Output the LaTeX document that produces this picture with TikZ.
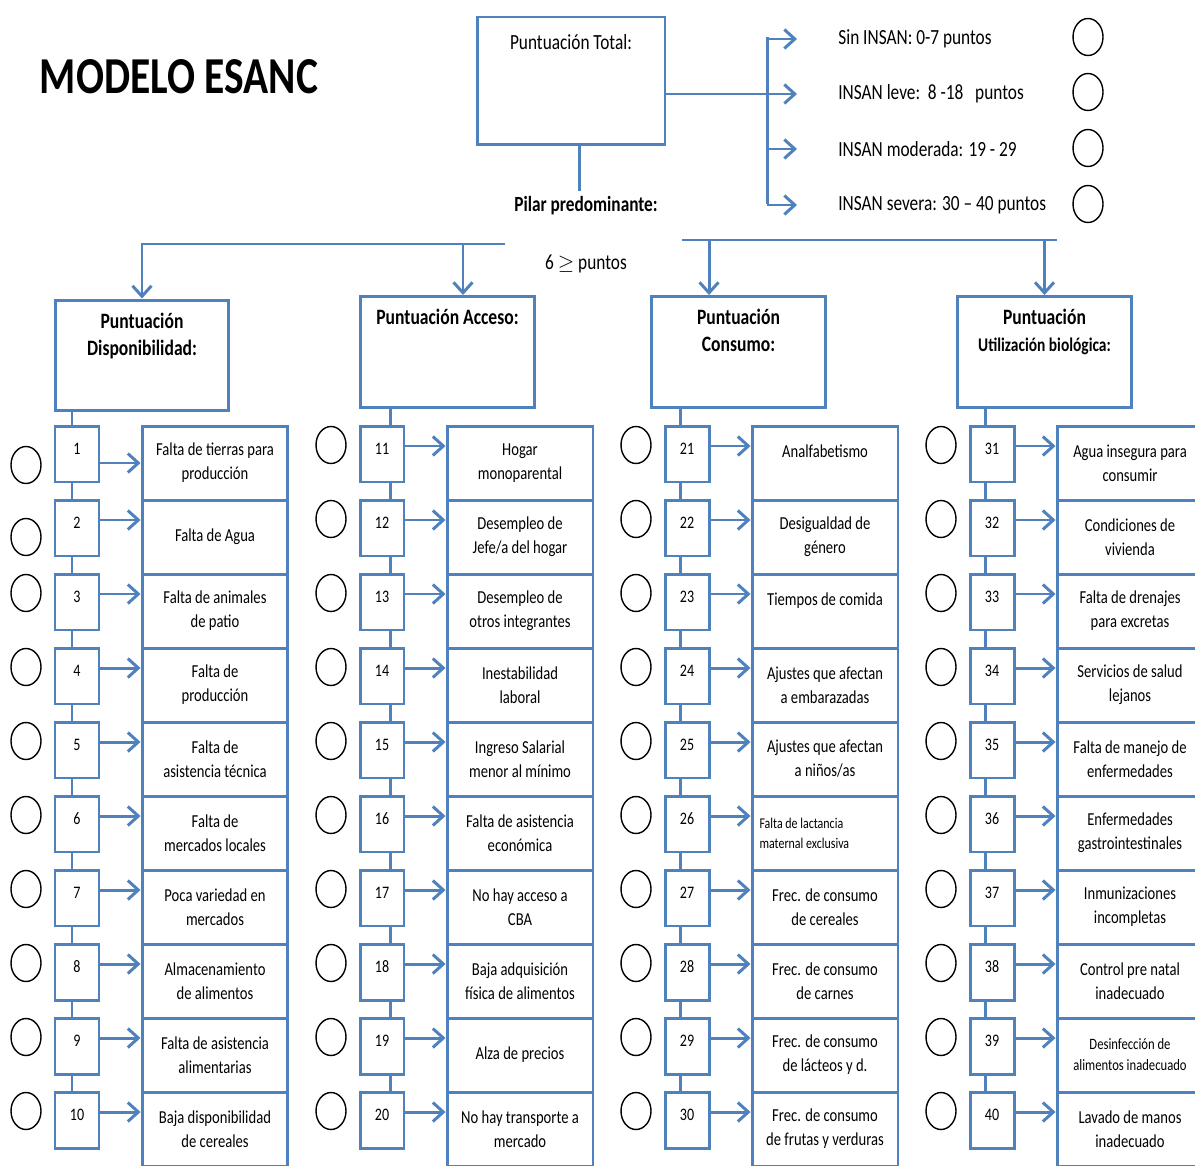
\documentclass[tikz,border=0pt]{standalone}
\usepackage{fontspec}
\setmainfont{Carlito}[FakeStretch=0.8]
\usepackage{tikz}
\usetikzlibrary{positioning,calc,arrows.meta,shapes.geometric}
\definecolor{ESANCazul}{RGB}{79,129,189}
\newcommand{\cabecera}[1]{\parbox[c][1.7cm][t]{3.3cm}{\centering #1}}
\tikzset{
    caja/.style={rectangle, draw=ESANCazul, line width=1.7pt, fill=white},
    linea/.style={draw=ESANCazul, line width=1.7pt},
    flecha/.style={linea, -{Straight Barb[length=2.1mm, width=3.8mm]}},
    marca/.style={ellipse, draw=black, line width=0.8pt, minimum width=0.6cm, minimum height=0.74cm, inner sep=0pt}
}

\begin{document}
\begin{tikzpicture}[
        x=0.02cm, y=-0.02cm, % un pixel de la imagen
        % --- CAJAS ---
        numbox/.style={caja, minimum width=0.88cm, minimum height=1.12cm, inner sep=0pt, text depth=0.22cm, font=\fontsize{10}{12}\selectfont},
        itembox/.style={caja, minimum width=2.92cm, minimum height=1.48cm, inner sep=0pt, text width=2.84cm, align=flush center, font=\fontsize{10.4}{13.6}\selectfont},
        cabeza/.style={caja, minimum width=3.48cm, inner xsep=0.09cm, inner ysep=0.26cm, font=\fontsize{12.5}{15.3}\selectfont\bfseries},
        total/.style={caja, minimum width=3.76cm, inner xsep=0pt, inner ysep=0.3cm, text height=0.34cm, text depth=1.62cm, font=\fontsize{12.3}{14.4}\selectfont},
        % --- TEXTOS SUELTOS ---
        etiqueta/.style={anchor=west, inner sep=0pt, font=\fontsize{12.3}{14.4}\selectfont}
    ]
    \path[use as bounding box] (0,0) rectangle (1195,1165);
    \clip (0,0) rectangle (1195,1165);

    % --- TITULO ---
    \node[font=\fontsize{29.5}{32}\selectfont\bfseries] (titulo) at (179,77) {MODELO ESANC};

    % --- PUNTUACION TOTAL Y ESCALA ---
    \node[total] (tot) at (571,81) {Puntuación Total:};
    \node[etiqueta] (l1) at (838,39) {Sin INSAN: 0-7 puntos};
    \node[etiqueta] (l2) at (838,94) {INSAN leve:~~8 -18~~~puntos};
    \node[etiqueta] (l3) at (838,149) {INSAN moderada: 19 - 29};
    \node[etiqueta] (l4) at (838,205) {INSAN severa: 30 -- 40 puntos};
    \node[marca] (r1) at (1088,37) {};
    \node[marca] (r2) at (1088,92) {};
    \node[marca] (r3) at (1088,148) {};
    \node[marca] (r4) at (1088,204) {};
    \coordinate (troncoA) at (767,37);
    \coordinate (troncoB) at (767,204);
    \draw[linea] (troncoA) -- (troncoB);
    \draw[linea] (tot.east |- l2) -- (troncoA |- l2);
    \foreach \k in {1,...,4}
        \draw[flecha] (troncoA |- l\k) -- ([xshift=-0.82cm]l\k.west);

    % --- PILAR PREDOMINANTE ---
    \node[font=\fontsize{12.3}{14.4}\selectfont\bfseries] (pilar) at (586,206) {Pilar predominante:};
    \draw[linea] ([xshift=0.16cm]tot.south) -- ([xshift=0.16cm]tot.south |- pilar.north);
    \node[font=\fontsize{12.3}{14.4}\selectfont] (seis) at (586,264) {6 $\geq$ puntos};

    % --- PILARES ---
    \node[cabeza] (disp) at (142,355.5) {\cabecera{Puntuación\\Disponibilidad:}};
    \node[cabeza] (acc) at (447.5,352) {\cabecera{Puntuación Acceso:}};
    \node[cabeza] (cons) at (738.5,352) {\cabecera{Puntuación\\Consumo:}};
    \node[cabeza] (util) at (1044.5,352) {\cabecera{Puntuación\\{\fontsize{11}{13}\selectfont Utilización biológica:}}};

    \coordinate (busIzq) at (505,244);
    \coordinate (busDerA) at (682,240);
    \coordinate (busDerB) at (1057,240);
    \coordinate (bajaAcc) at ([xshift=0.31cm]acc.north);
    \coordinate (bajaCons) at ([xshift=-0.59cm]cons.north);
    \draw[flecha] (busIzq) -| (disp.north);
    \draw[flecha] (bajaAcc |- busIzq) -- (bajaAcc);
    \draw[linea] (busDerA) -- (busDerB);
    \draw[flecha] (bajaCons |- busDerA) -- (bajaCons);
    \draw[flecha] (util.north |- busDerA) -- (util.north);

    % --- EJES DE CADA COLUMNA ---
    \coordinate (eje0) at (72,0);
    \coordinate (eje1) at (390,0);
    \coordinate (eje2) at (680,0);
    \coordinate (eje3) at (985,0);

    % --- INDICADORES 1-40 ---
    \foreach \txt [count=\i] in {
        {Falta de tierras para\\producción}, {Falta de Agua}, {Falta de animales\\de patio},
        {Falta de\\producción}, {Falta de\\asistencia técnica}, {Falta de\\mercados locales},
        {Poca variedad en\\mercados}, {Almacenamiento\\de alimentos}, {Falta de asistencia\\alimentarias},
        {Baja disponibilidad\\de cereales},
        {Hogar\\monoparental}, {Desempleo de\\Jefe/a del hogar}, {Desempleo de\\otros integrantes},
        {Inestabilidad\\laboral}, {Ingreso Salarial\\menor al mínimo}, {Falta de asistencia\\económica},
        {No hay acceso a\\CBA}, {Baja adquisición\\física de alimentos}, {Alza de precios},
        {No hay transporte a\\mercado},
        {Analfabetismo\\\mbox{}}, {Desigualdad de\\género}, {Tiempos de comida\\\mbox{}},
        {Ajustes que afectan\\a embarazadas}, {Ajustes que afectan\\a niños/as},
        {Falta de lactancia\\maternal exclusiva}, {Frec. de consumo\\de cereales},
        {Frec. de consumo\\de carnes}, {Frec. de consumo\\de lácteos y d.},
        {Frec. de consumo\\de frutas y verduras},
        {Agua insegura para\\consumir}, {Condiciones de\\vivienda}, {Falta de drenajes\\para excretas},
        {Servicios de salud\\lejanos}, {Falta de manejo de\\enfermedades}, {Enfermedades\\gastrointestinales},
        {Inmunizaciones\\incompletas}, {Control pre natal\\inadecuado},
        {Desinfección de\\alimentos inadecuado}, {Lavado de manos\\inadecuado}} {
        \pgfmathtruncatemacro{\col}{(\i-1)/10}
        \pgfmathtruncatemacro{\fila}{mod(\i-1,10)}
        \pgfmathtruncatemacro{\xizq}{{55,360,665,970}[\col]}
        \pgfmathtruncatemacro{\ysup}{426+74*\fila}
        \pgfmathtruncatemacro{\yc}{\ysup+19+(\i==1)*20+(\i==2)*18}
        \pgfmathsetmacro{\dy}{ifthenelse(\i==1,-0.18,0.16)}
        \node[numbox] (n\i) at (\xizq+22,\ysup+28) {\i};
        \node[marca] (c\i) at (\xizq-29,\yc) {};
        \ifnum\i=26
            \node[itembox, align=flush left, text width=2.62cm, font=\fontsize{8.5}{11.5}\selectfont] (it\i) at (\xizq+160,\ysup+37) {\txt};
        \else\ifnum\i=39
            \node[itembox, font=\fontsize{9}{12}\selectfont] (it\i) at (\xizq+160,\ysup+37) {\txt};
        \else
            \node[itembox] (it\i) at (\xizq+160,\ysup+37) {\txt};
        \fi\fi
        \draw[flecha] ([yshift=\dy cm]n\i.east) -- ([yshift=\dy cm]n\i.east -| it\i.west);
        \ifnum\fila>0
            \pgfmathtruncatemacro{\prev}{\i-1}
            \draw[linea] (n\prev.south -| eje\col) -- (n\i.north -| eje\col);
        \fi
    }

    % --- UNION PILAR - PRIMER INDICADOR ---
    \foreach \cab/\primero [count=\c from 0] in {disp/1, acc/11, cons/21, util/31}
        \draw[linea] (\cab.south -| eje\c) -- (n\primero.north -| eje\c);

\end{tikzpicture}
\end{document}
